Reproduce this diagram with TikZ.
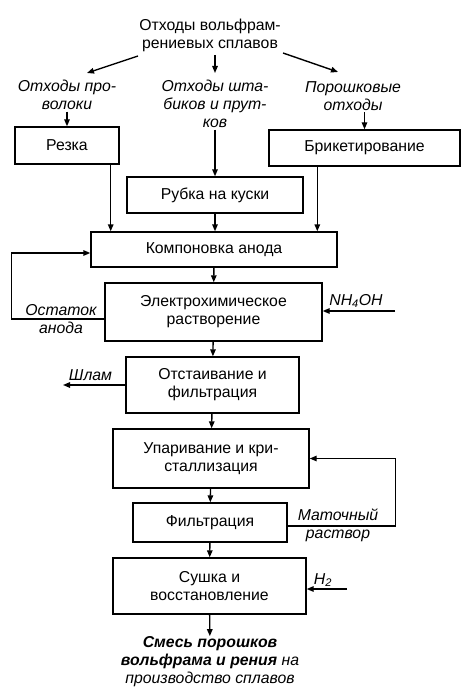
\documentclass[tikz,border=0pt]{standalone}
\usepackage{fontspec}
\setmainfont{Liberation Sans}
\usetikzlibrary{arrows.meta}

\begin{document}
\begin{tikzpicture}[x=1pt, y=-1pt, line width=1.4pt,
            >={Triangle[length=7pt,width=5.5pt]},
            box/.style = {shape=rectangle, draw, align=center,
                          font=\fontsize{15.8}{18}\selectfont, inner sep=0pt},
            lbl/.style = {align=center, inner sep=1pt,
                          font=\fontsize{15.8}{18}\selectfont\itshape}]
            \useasboundingbox (0,0) rectangle (468,690);
            % sources
            \node[align=center, inner sep=1pt, font=\fontsize{15.8}{18}\selectfont] (top) at (210,35)
                    {Отходы вольфрам-\\рениевых сплавов};
            \node[lbl] (prov) at (67,95) {Отходы про-\\волоки};
            \node[lbl] (shtab) at (215,104) {Отходы шта-\\биков и прут-\\ков};
            \node[lbl] (porosh) at (353,96) {Порошковые\\отходы};
            \coordinate (a1) at (138,56);  \coordinate (a2) at (87,73);
            \coordinate (b1) at (215,55);  \coordinate (b2) at (215,73);
            \coordinate (c1) at (283,53);  \coordinate (c2) at (338,72);
            \draw[->] (a1) -- (a2);
            \draw[->] (b1) -- (b2);
            \draw[->] (c1) -- (c2);
            % process steps
            \node[box, minimum width=104pt, minimum height=37pt] (rezka) at (67,145.5) {Резка};
            \node[box, minimum width=191pt, minimum height=36pt] (brik) at (364.5,148) {Брикетирование};
            \node[box, minimum width=176pt, minimum height=36pt] (rubka) at (215,195) {Рубка на куски};
            \node[box, minimum width=246pt, minimum height=35pt] (komp) at (214,249.5) {Компоновка анода};
            \node[box, minimum width=217pt, minimum height=58pt] (elektro) at (213.5,312) {Электрохимическое\\растворение};
            \node[box, minimum width=173pt, minimum height=56pt] (otst) at (212.5,385) {Отстаивание и\\фильтрация};
            \node[box, minimum width=196pt, minimum height=59pt] (upar) at (211,458.5) {Упаривание и кри-\\сталлизация};
            \node[box, minimum width=154pt, minimum height=39pt] (filtr) at (210,522.5) {Фильтрация};
            \node[box, minimum width=193pt, minimum height=56pt] (sushka) at (209.5,586) {Сушка и\\восстановление};
            \node[lbl, inner sep=0pt] (final) at (210,662)
                    {\textbf{Смесь порошков}\\\textbf{вольфрама и рения} на\\производство сплавов};
            % side streams
            \node[lbl] (ostatok) at (61,319) {Остаток\\анода};
            \node[lbl] (nh4oh) at (356,301) {NH\textsubscript{4}OH};
            \node[lbl] (shlam) at (90.5,375) {Шлам};
            \node[lbl] (matoch) at (338,525) {Маточный\\раствор};
            \node[lbl] (h2) at (323,580) {H\textsubscript{2}};
            \coordinate (nhin) at (395,311);
            \coordinate (shl) at (63,385);
            \coordinate (h2in) at (347,589);
            % flows
            \draw[->] (prov) -- (prov |- rezka.north);
            \draw[->] (shtab) -- (shtab |- rubka.north);
            \draw[->] (porosh.south -| brik.north) -- (brik.north);
            \draw[->] ([xshift=-9pt]rezka.south east) -- ([xshift=-9pt]rezka.south east |- komp.north);
            \draw[->] (rubka) -- (rubka |- komp.north);
            \draw[->] ([xshift=49pt]brik.south west) -- ([xshift=49pt]brik.south west |- komp.north);
            \draw[->] (komp) -- (elektro);
            \draw[->] ([yshift=-7pt]elektro.west) -- ++(-93,0) |- ([yshift=-3.5pt]komp.west);
            \draw[->] (nhin) -- (nhin -| elektro.east);
            \draw[->] (elektro) -- (otst);
            \draw[->] (otst.west) -- (shl);
            \draw[->] (otst) -- (upar);
            \draw[->] (upar) -- (filtr);
            \draw[->] ([yshift=-3.5pt]filtr.east) -- ++(108,0) |- (upar.east);
            \draw[->] (filtr) -- (sushka);
            \draw[->] (h2in) -- (h2in -| sushka.east);
            \draw[->] (sushka) -- (final);
        \end{tikzpicture}
\end{document}
